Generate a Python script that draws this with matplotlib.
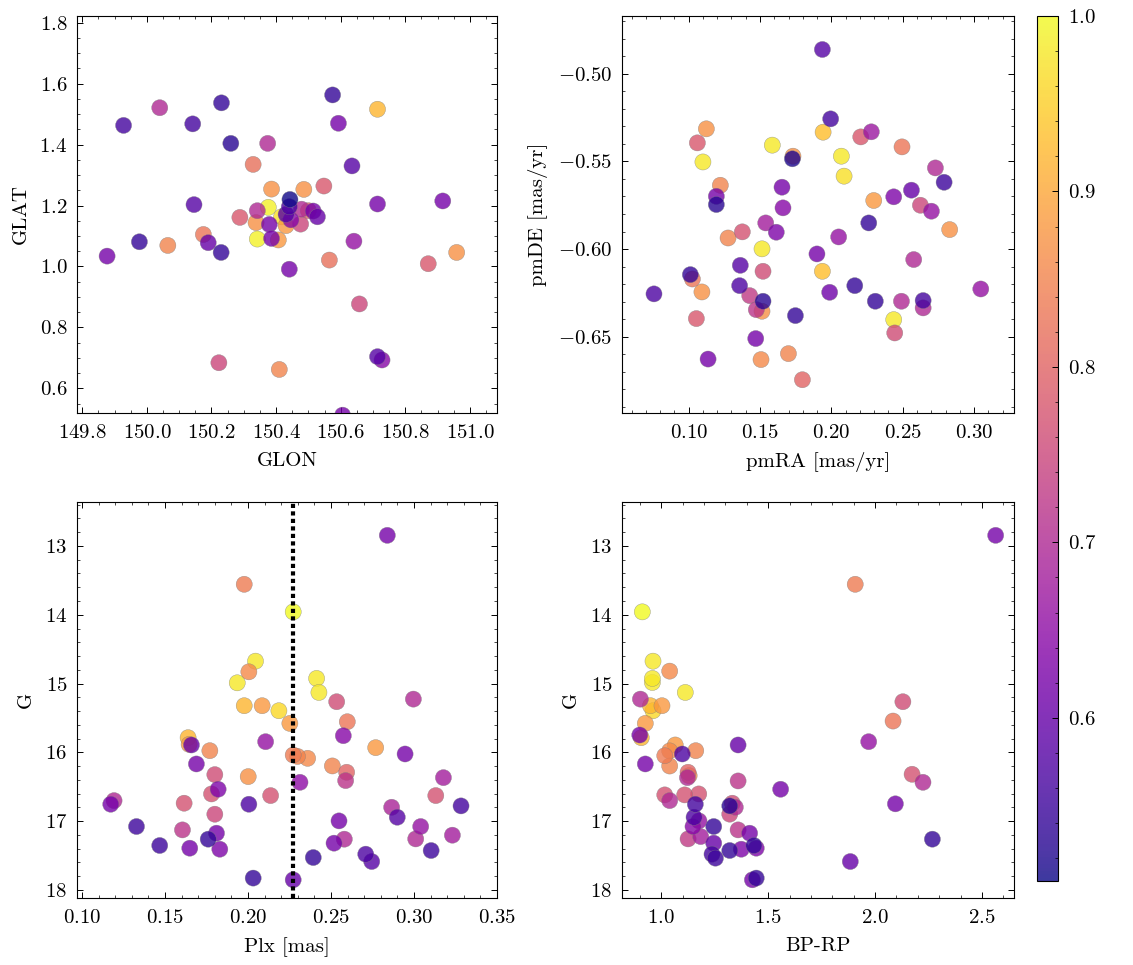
import matplotlib
matplotlib.use("Agg")
import matplotlib.pyplot as plt
import numpy as np

plt.rcParams.update({
    "font.family": "serif",
    "font.serif": ["cmr10"],
    "mathtext.fontset": "cm",
    "axes.formatter.use_mathtext": True,
    "axes.unicode_minus": True,
    "font.size": 15,
    "axes.linewidth": 0.8,
    "axes.labelpad": 7,
    "xtick.direction": "in",
    "ytick.direction": "in",
    "xtick.top": True,
    "ytick.right": True,
    "xtick.minor.visible": True,
    "ytick.minor.visible": True,
    "xtick.major.size": 4.5,
    "ytick.major.size": 4.5,
    "xtick.minor.size": 2.5,
    "ytick.minor.size": 2.5,
    "xtick.major.width": 0.7,
    "ytick.major.width": 0.7,
    "xtick.minor.width": 0.5,
    "ytick.minor.width": 0.5,
    "xtick.major.pad": 8,
    "ytick.major.pad": 7,
})

# --- position on the sky (GLON, GLAT, membership prob) ---
glon = [149.877, 149.928, 150.040, 150.142, 150.231, 150.260, 150.374, 150.329,
        150.575, 150.593, 150.714, 150.635, 150.548, 150.386, 150.486, 150.146,
        150.288, 150.175, 150.190, 149.977, 150.065, 150.230, 150.376, 150.342,
        150.338, 150.342, 150.379, 150.386, 150.407, 150.417, 150.431, 150.441,
        150.443, 150.431, 150.446, 150.479, 150.476, 150.500, 150.515, 150.528,
        150.714, 150.916, 150.641, 150.565, 150.441, 150.959, 150.871, 150.658,
        150.714, 150.728, 150.223, 150.410, 150.606]
glat = [1.034, 1.463, 1.521, 1.468, 1.537, 1.404, 1.404, 1.335,
        1.563, 1.470, 1.516, 1.330, 1.264, 1.254, 1.253, 1.203,
        1.161, 1.105, 1.078, 1.081, 1.069, 1.046, 1.194, 1.183,
        1.144, 1.090, 1.138, 1.092, 1.087, 1.163, 1.171, 1.196,
        1.220, 1.134, 1.153, 1.188, 1.139, 1.183, 1.182, 1.163,
        1.205, 1.215, 1.083, 1.021, 0.991, 1.046, 1.009, 0.877,
        0.704, 0.693, 0.684, 0.662, 0.512]
prob_pos = [0.62, 0.56, 0.70, 0.56, 0.54, 0.53, 0.70, 0.82,
            0.54, 0.62, 0.92, 0.58, 0.78, 0.87, 0.87, 0.58,
            0.78, 0.83, 0.60, 0.54, 0.85, 0.54, 0.99, 0.70,
            0.87, 0.99, 0.62, 0.62, 0.88, 0.97, 0.58, 0.57,
            0.51, 0.88, 0.64, 0.70, 0.75, 0.80, 0.62, 0.60,
            0.62, 0.62, 0.66, 0.82, 0.62, 0.87, 0.78, 0.75,
            0.58, 0.64, 0.75, 0.85, 0.62]

# --- proper motions ---
pmra = [0.1937, 0.1995, 0.1124, 0.1061, 0.1100, 0.1942, 0.1586, 0.1731,
        0.1727, 0.2070, 0.2089, 0.2206, 0.2280, 0.2495, 0.2729, 0.2790,
        0.1222, 0.1194, 0.1194, 0.1654, 0.1661, 0.2297, 0.2437, 0.2561,
        0.2624, 0.2701, 0.2829, 0.2262, 0.1540, 0.1614, 0.1376, 0.1276,
        0.2051, 0.1514, 0.1899, 0.2577, 0.1362, 0.1521, 0.1937, 0.1026,
        0.1012, 0.1093, 0.0757, 0.1357, 0.1428, 0.1521, 0.1474, 0.1514,
        0.1988, 0.2164, 0.2308, 0.2491, 0.2643, 0.2643, 0.3047, 0.1748,
        0.1054, 0.2437, 0.2444, 0.1470, 0.1136, 0.1507, 0.1699, 0.1797]
pmde = [-0.4861, -0.5257, -0.5314, -0.5394, -0.5503, -0.5333, -0.5407, -0.5470,
        -0.5485, -0.5470, -0.5584, -0.5360, -0.5331, -0.5417, -0.5537, -0.5619,
        -0.5636, -0.5699, -0.5746, -0.5647, -0.5765, -0.5723, -0.5702, -0.5664,
        -0.5750, -0.5784, -0.5889, -0.5851, -0.5851, -0.5904, -0.5902, -0.5937,
        -0.5931, -0.5999, -0.6028, -0.6060, -0.6093, -0.6127, -0.6127, -0.6171,
        -0.6146, -0.6245, -0.6256, -0.6209, -0.6266, -0.6298, -0.6346, -0.6355,
        -0.6247, -0.6209, -0.6298, -0.6298, -0.6294, -0.6336, -0.6228, -0.6380,
        -0.6397, -0.6403, -0.6479, -0.6511, -0.6628, -0.6631, -0.6597, -0.6746]
prob_pm = [0.58, 0.56, 0.87, 0.78, 0.98, 0.93, 0.98, 0.87,
           0.52, 0.98, 0.97, 0.78, 0.67, 0.83, 0.70, 0.55,
           0.85, 0.62, 0.53, 0.62, 0.64, 0.88, 0.63, 0.60,
           0.75, 0.66, 0.87, 0.54, 0.68, 0.63, 0.77, 0.85,
           0.66, 0.98, 0.62, 0.70, 0.58, 0.76, 0.93, 0.83,
           0.54, 0.87, 0.57, 0.57, 0.73, 0.53, 0.72, 0.87,
           0.61, 0.54, 0.54, 0.70, 0.56, 0.70, 0.66, 0.54,
           0.78, 0.98, 0.76, 0.62, 0.62, 0.86, 0.85, 0.80]

# --- parallax vs G ---
plx = [0.2839, 0.1977, 0.2272, 0.2045, 0.2005, 0.1935, 0.2413, 0.2427,
       0.1977, 0.2085, 0.2186, 0.2252, 0.2534, 0.2598, 0.2996, 0.1639,
       0.1645, 0.1659, 0.2106, 0.2574, 0.2769, 0.2946, 0.1770, 0.1689,
       0.2272, 0.2298, 0.2359, 0.2508, 0.2594, 0.2588, 0.2313, 0.2001,
       0.1800, 0.3177, 0.1780, 0.1820, 0.2136, 0.3131, 0.1615, 0.2005,
       0.1193, 0.1173, 0.1800, 0.2865, 0.3283, 0.2899, 0.1328, 0.1605,
       0.1810, 0.2548, 0.3040, 0.3231, 0.3010, 0.2580, 0.2518, 0.1760,
       0.1468, 0.1649, 0.1830, 0.3103, 0.2709, 0.2745, 0.2393, 0.2031,
       0.2272]
g_plx = [12.845, 13.557, 13.958, 14.675, 14.830, 14.990, 14.926, 15.130,
         15.323, 15.323, 15.396, 15.580, 15.265, 15.556, 15.227, 15.788,
         15.885, 15.894, 15.846, 15.759, 15.933, 16.025, 15.977, 16.170,
         16.040, 16.060, 16.088, 16.199, 16.291, 16.412, 16.437, 16.354,
         16.325, 16.369, 16.606, 16.538, 16.630, 16.630, 16.741, 16.756,
         16.703, 16.756, 16.901, 16.800, 16.780, 16.945, 17.080, 17.129,
         17.177, 16.998, 17.080, 17.206, 17.260, 17.264, 17.322, 17.264,
         17.356, 17.395, 17.410, 17.429, 17.482, 17.589, 17.531, 17.830,
         17.855]
prob_plx = [0.62, 0.84, 1.00, 0.98, 0.86, 0.98, 0.98, 0.98,
            0.92, 0.88, 0.96, 0.88, 0.76, 0.83, 0.70, 0.92,
            0.88, 0.60, 0.66, 0.64, 0.88, 0.62, 0.85, 0.62,
            0.84, 0.85, 0.86, 0.85, 0.80, 0.72, 0.65, 0.87,
            0.76, 0.68, 0.77, 0.63, 0.77, 0.77, 0.77, 0.57,
            0.70, 0.62, 0.75, 0.69, 0.56, 0.58, 0.55, 0.72,
            0.62, 0.62, 0.66, 0.68, 0.70, 0.70, 0.62, 0.54,
            0.55, 0.62, 0.63, 0.55, 0.57, 0.58, 0.54, 0.54,
            0.60]
plx_ref = 0.2272

# --- colour-magnitude diagram ---
bprp = [2.564, 1.907, 0.911, 0.961, 1.039, 0.958, 0.958, 1.112,
        0.902, 0.949, 1.003, 0.961, 0.925, 2.130, 2.084, 1.970,
        0.906, 0.899, 1.065, 1.359, 1.161, 1.098, 1.016, 1.039,
        0.925, 1.039, 1.125, 1.130, 1.122, 1.359, 2.173, 2.224,
        1.558, 1.016, 1.109, 1.175, 1.039, 1.159, 1.332, 1.320,
        1.346, 2.095, 1.320, 1.176, 1.153, 1.148, 1.245, 1.359,
        1.413, 1.184, 1.125, 2.268, 1.245, 1.374, 1.444, 1.433,
        1.320, 1.237, 1.253, 1.884, 1.426, 1.444]
g_cmd = [12.845, 13.557, 13.958, 14.675, 14.820, 14.926, 14.985, 15.130,
         15.227, 15.323, 15.323, 15.396, 15.580, 15.265, 15.546, 15.846,
         15.788, 15.749, 15.894, 15.894, 15.977, 16.025, 16.050, 15.980,
         16.170, 16.200, 16.291, 16.340, 16.369, 16.417, 16.320, 16.437,
         16.538, 16.620, 16.620, 16.606, 16.703, 16.756, 16.741, 16.780,
         16.800, 16.750, 16.900, 16.998, 16.945, 17.080, 17.080, 17.129,
         17.177, 17.226, 17.260, 17.264, 17.322, 17.410, 17.395, 17.356,
         17.429, 17.482, 17.540, 17.589, 17.855, 17.830]
prob_cmd = [0.62, 0.84, 1.00, 0.98, 0.86, 0.98, 0.98, 0.98,
            0.70, 0.92, 0.88, 0.96, 0.88, 0.76, 0.83, 0.66,
            0.92, 0.62, 0.88, 0.60, 0.85, 0.57, 0.84, 0.86,
            0.62, 0.85, 0.80, 0.86, 0.70, 0.72, 0.77, 0.70,
            0.62, 0.77, 0.77, 0.77, 0.70, 0.56, 0.76, 0.53,
            0.70, 0.62, 0.75, 0.66, 0.57, 0.64, 0.54, 0.72,
            0.62, 0.68, 0.73, 0.54, 0.60, 0.63, 0.63, 0.54,
            0.54, 0.56, 0.55, 0.60, 0.62, 0.54]

vmin, vmax = 0.507, 1.0

fig = plt.figure(figsize=(11.33, 9.65), dpi=100)
ax_pos = fig.add_axes([0.0680, 0.5720, 0.3707, 0.4114])
ax_pm = fig.add_axes([0.5490, 0.5720, 0.3460, 0.4114])
ax_plx = fig.add_axes([0.0680, 0.0694, 0.3707, 0.4104])
ax_cmd = fig.add_axes([0.5490, 0.0694, 0.3460, 0.4104])
cax = fig.add_axes([0.9153, 0.0870, 0.0185, 0.8964])


def members(ax, x, y, p):
    x, y, p = np.asarray(x), np.asarray(y), np.asarray(p)
    order = np.argsort(-p)  # least likely members drawn last
    return ax.scatter(x[order], y[order], c=p[order], cmap="plasma",
                      vmin=vmin, vmax=vmax, s=135, alpha=0.8,
                      edgecolors="grey", linewidths=0.3, zorder=3)


sc = members(ax_pos, glon, glat, prob_pos)
ax_pos.set_xlim(149.784, 151.084)
ax_pos.set_ylim(0.519, 1.822)
ax_pos.set_xticks([149.8, 150.0, 150.2, 150.4, 150.6, 150.8, 151.0])
ax_pos.set_yticks([0.6, 0.8, 1.0, 1.2, 1.4, 1.6, 1.8])
ax_pos.set_xlabel("GLON")
ax_pos.set_ylabel("GLAT")

members(ax_pm, pmra, pmde, prob_pm)
ax_pm.set_xlim(0.0533, 0.328)
ax_pm.set_ylim(-0.6936, -0.467)
ax_pm.set_xticks([0.10, 0.15, 0.20, 0.25, 0.30])
ax_pm.set_yticks([-0.50, -0.55, -0.60, -0.65])
ax_pm.set_xlabel("pmRA [mas/yr]")
ax_pm.set_ylabel("pmDE [mas/yr]")

members(ax_plx, plx, g_plx, prob_plx)
ax_plx.axvline(plx_ref, color="k", lw=3, ls=(0, (1, 0.8)), zorder=4)
ax_plx.set_xlim(0.097, 0.35)
ax_plx.set_ylim(18.12, 12.36)
ax_plx.set_xticks([0.10, 0.15, 0.20, 0.25, 0.30, 0.35])
ax_plx.set_yticks([13, 14, 15, 16, 17, 18])
ax_plx.set_xlabel("Plx [mas]")
ax_plx.set_ylabel("G")

members(ax_cmd, bprp, g_cmd, prob_cmd)
ax_cmd.set_xlim(0.816, 2.650)
ax_cmd.set_ylim(18.12, 12.36)
ax_cmd.set_xticks([1.0, 1.5, 2.0, 2.5])
ax_cmd.set_yticks([13, 14, 15, 16, 17, 18])
ax_cmd.set_xlabel("BP-RP")
ax_cmd.set_ylabel("G")

cb = fig.colorbar(sc, cax=cax)
cb.solids.set_alpha(0.8)
cb.set_ticks([0.6, 0.7, 0.8, 0.9, 1.0])
cb.ax.minorticks_on()
cb.ax.tick_params(which="both", direction="in", right=True, left=False)
cb.outline.set_linewidth(0.8)

fig.savefig("out.png", dpi=100)
